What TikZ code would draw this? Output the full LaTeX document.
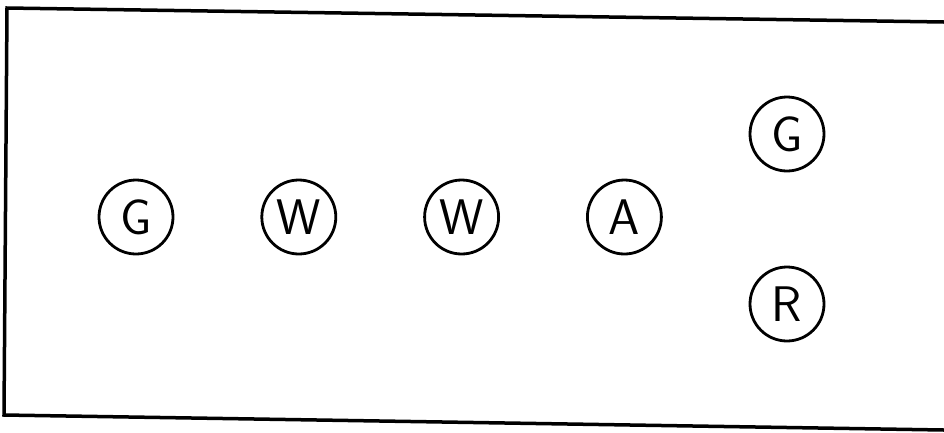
\documentclass[tikz,border=0pt]{standalone}
\usepackage{fontspec}
\usetikzlibrary{positioning}
\tikzset{
  lamp/.style={draw, circle, line width=2.8pt, minimum size=74pt, inner sep=0pt, font=\sffamily\fontsize{50}{50}\selectfont},
  frame/.style={line width=3.5pt, line join=miter}
}

\begin{document}
\begin{tikzpicture}[x=1pt, y=-1pt, node distance=86pt]
\useasboundingbox (0,0) rectangle (944,432);
% panel outline, right side runs off the sheet
\draw[frame] (944,22) -- (7,8) -- (4,415) -- (944,430);
% main row
\node[lamp] (g1) at (136,217) {G};
\node[lamp, right=of g1] (w1) {W};
\node[lamp, right=of w1] (w2) {W};
\node[lamp, right=of w2] (a) {A};
% pair on the right
\node[lamp] (g2) at (787,134) {G};
\node[lamp] (r) at (787,304) {R};
\end{tikzpicture}
\end{document}
